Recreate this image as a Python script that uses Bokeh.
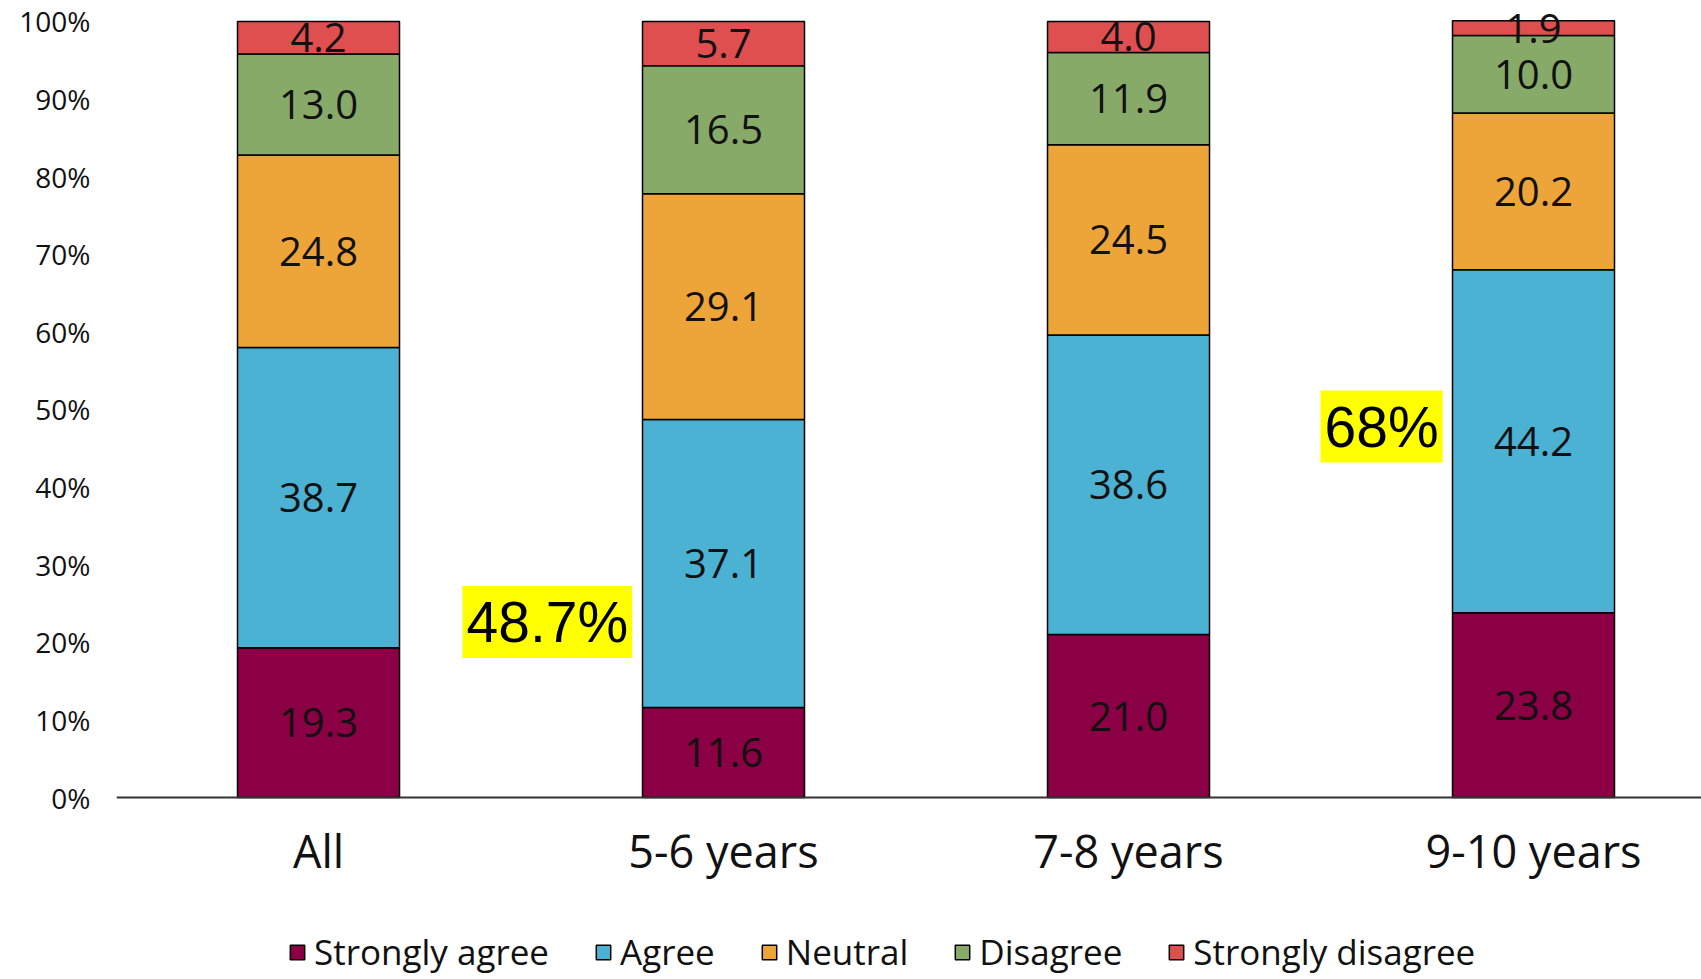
from bokeh.plotting import figure
from bokeh.models import ColumnDataSource, FixedTicker, PrintfTickFormatter, Label, Legend
from bokeh.core.properties import value
from bokeh.embed import file_html
from bokeh.resources import INLINE

categories = ["All", "5-6 years", "7-8 years", "9-10 years"]
series = ["Strongly agree", "Agree", "Neutral", "Disagree", "Strongly disagree"]
strongly_agree = [19.3, 11.6, 21.0, 23.8]
agree = [38.7, 37.1, 38.6, 44.2]
neutral = [24.8, 29.1, 24.5, 20.2]
disagree = [13.0, 16.5, 11.9, 10.0]
strongly_disagree = [4.2, 5.7, 4.0, 1.9]
colors = ["#8B0044", "#4BB2D3", "#EDA53A", "#88AA69", "#E04F4F"]
y_ticks = [0, 10, 20, 30, 40, 50, 60, 70, 80, 90, 100]
highlights = [("48.7%", 0.565, 22.6), ("68%", 2.625, 47.8)]

FONT = "Open Sans"
HFONT = "Liberation Sans"

values = [strongly_agree, agree, neutral, disagree, strongly_disagree]
xs = list(range(len(categories)))
data = {"x": xs}
for name, vals in zip(series, values):
    data[name] = vals
source = ColumnDataSource(data)

p = figure(width=1701, height=979, output_backend="svg", toolbar_location=None,
           x_range=(-0.4988, 3.4148), y_range=(-23.45, 102.7),
           min_border_left=116, min_border_right=0, min_border_top=0, min_border_bottom=0)

renderers = p.vbar_stack(series, x="x", width=0.4, source=source, color=colors,
                         line_color="black", line_width=1.5)

# segment labels
lx, ly, lt = [], [], []
for i in xs:
    base = 0.0
    for vals in values:
        v = vals[i]
        lx.append(i)
        ly.append(base + v / 2.0)
        lt.append(f"{v:.1f}")
        base += v
lab_src = ColumnDataSource(dict(x=lx, y=ly, t=lt))
p.text(x="x", y="y", text="t", source=lab_src, text_font=value(FONT), text_font_size="40px",
       text_align="center", text_baseline="middle", text_color="#111111")

for txt, hx, hy in highlights:
    p.add_layout(Label(x=hx, y=hy, text=txt, text_font=HFONT, text_font_size="57px",
                       text_align="center", text_baseline="middle", text_color="black",
                       background_fill_color="#FFFF00", padding=4))

legend = Legend(items=[(s, [r]) for s, r in zip(series, renderers)],
                orientation="horizontal", location=(172, 4),
                label_text_font=FONT, label_text_font_size="35px", label_text_color="#111111",
                glyph_width=18, glyph_height=18, label_standoff=8, spacing=45,
                padding=0, margin=0, border_line_color=None, background_fill_alpha=0)
p.add_layout(legend, "center")

p.xaxis.fixed_location = 0
p.xaxis.ticker = FixedTicker(ticks=xs)
p.xaxis.major_label_overrides = {i: c for i, c in enumerate(categories)}
p.xaxis.major_label_text_font = FONT
p.xaxis.major_label_text_font_size = "45px"
p.xaxis.major_label_text_color = "#111111"
p.xaxis.major_label_standoff = 16
p.xaxis.major_tick_line_color = None
p.xaxis.minor_tick_line_color = None
p.xaxis.axis_line_color = "#333333"
p.xaxis.axis_line_width = 2

p.yaxis.ticker = FixedTicker(ticks=y_ticks)
p.yaxis.formatter = PrintfTickFormatter(format="%d%%")
p.yaxis.major_label_text_font = FONT
p.yaxis.major_label_text_font_size = "28px"
p.yaxis.major_label_text_color = "#111111"
p.yaxis.major_label_standoff = 20
p.yaxis.major_tick_line_color = None
p.yaxis.minor_tick_line_color = None
p.yaxis.axis_line_color = None

p.grid.visible = False
p.outline_line_color = None

open("out.html", "w").write(file_html(p, INLINE))
